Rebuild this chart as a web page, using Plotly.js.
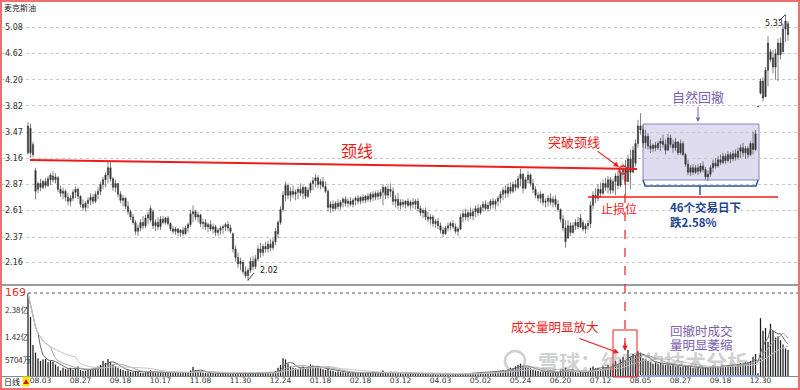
<!DOCTYPE html>
<html><head><meta charset="utf-8">
<script src="https://cdn.plot.ly/plotly-3.0.1.min.js"></script>
<style>
html,body{margin:0;padding:0;background:#fff;}
#wrap{width:800px;height:390px;box-sizing:border-box;border:2px solid #f26d6d;overflow:hidden;}
#chart{width:796px;height:386px;}
</style></head><body><div id="wrap"><div id="chart"></div></div>
<script>
// ---- data ----
const openP = [
3.22,3.52,3.32,3.02,2.82,2.88,2.84,2.90,2.86,2.92,2.96,2.92,2.94,2.82,2.78,2.80,
2.74,2.70,2.73,2.79,2.82,2.75,2.67,2.64,2.68,2.71,2.74,2.70,2.77,2.80,2.87,2.92,
2.97,3.05,2.93,2.84,2.88,2.77,2.71,2.73,2.65,2.60,2.55,2.50,2.42,2.45,2.50,2.47,
2.54,2.52,2.60,2.47,2.50,2.46,2.53,2.50,2.54,2.49,2.44,2.42,2.44,2.41,2.43,2.40,
2.45,2.48,2.58,2.60,2.55,2.57,2.49,2.50,2.46,2.48,2.44,2.46,2.41,2.43,2.45,2.46,
2.48,2.45,2.40,2.27,2.20,2.15,2.16,2.09,2.06,2.10,2.17,2.13,2.19,2.27,2.24,2.29,
2.27,2.31,2.28,2.33,2.40,2.50,2.62,2.76,2.86,2.76,2.80,2.77,2.79,2.82,2.78,2.84,
2.75,2.81,2.88,2.91,2.94,2.87,2.90,2.85,2.80,2.64,2.67,2.63,2.68,2.65,2.69,2.72,
2.68,2.70,2.67,2.71,2.73,2.70,2.74,2.71,2.75,2.72,2.77,2.74,2.78,2.75,2.79,2.84,
2.76,2.82,2.80,2.70,2.72,2.66,2.69,2.67,2.70,2.66,2.69,2.67,2.70,2.63,2.59,2.61,
2.55,2.53,2.55,2.49,2.51,2.47,2.43,2.40,2.45,2.47,2.49,2.46,2.42,2.44,2.55,2.58,
2.55,2.59,2.56,2.60,2.63,2.59,2.64,2.67,2.63,2.66,2.70,2.67,2.70,2.73,2.77,2.81,
2.78,2.84,2.80,2.87,2.84,2.93,2.98,2.83,2.92,2.97,2.88,2.82,2.76,2.73,2.77,2.69,
2.70,2.73,2.69,2.72,2.67,2.62,2.53,2.45,2.36,2.47,2.41,2.47,2.50,2.46,2.50,2.44,
2.47,2.49,2.66,2.76,2.73,2.82,2.78,2.88,2.84,2.92,2.81,2.90,2.96,2.86,3.00,3.04,
2.90,3.15,3.00,3.10,3.33,3.55,3.50,3.34,3.42,3.30,3.27,3.31,3.28,3.33,3.36,3.32,
3.25,3.40,3.32,3.28,3.35,3.22,3.33,3.20,3.09,3.00,3.05,3.00,3.05,3.01,3.07,3.03,
2.95,2.98,3.05,3.10,3.07,3.14,3.11,3.18,3.13,3.20,3.15,3.21,3.17,3.24,3.28,3.22,
3.27,3.20,3.33,3.26,3.81,4.00,4.18,3.95,4.35,4.65,4.55,4.40,4.60,4.80,4.65,5.05,5.15];
const highP = [
3.60,3.58,3.35,3.05,2.90,2.93,2.92,2.94,2.96,2.99,3.01,2.99,2.96,2.86,2.84,2.82,
2.78,2.76,2.82,2.85,2.84,2.76,2.72,2.70,2.74,2.78,2.77,2.80,2.84,2.90,2.95,3.00,
3.13,3.12,2.95,2.92,2.88,2.80,2.76,2.74,2.70,2.62,2.58,2.52,2.48,2.53,2.56,2.57,
2.60,2.66,2.62,2.53,2.55,2.56,2.56,2.55,2.56,2.50,2.47,2.46,2.45,2.44,2.46,2.47,
2.50,2.62,2.66,2.62,2.60,2.58,2.53,2.53,2.50,2.52,2.49,2.48,2.45,2.47,2.48,2.50,
2.51,2.48,2.41,2.30,2.24,2.20,2.18,2.13,2.12,2.20,2.21,2.22,2.30,2.32,2.31,2.33,
2.34,2.35,2.36,2.45,2.52,2.65,2.80,2.90,2.88,2.84,2.86,2.82,2.85,2.88,2.86,2.85,
2.84,2.90,2.95,2.98,2.97,2.93,2.95,2.90,2.82,2.70,2.71,2.70,2.72,2.71,2.74,2.75,
2.73,2.74,2.73,2.75,2.76,2.75,2.77,2.76,2.78,2.79,2.80,2.80,2.81,2.82,2.87,2.85,
2.86,2.88,2.84,2.76,2.78,2.72,2.72,2.71,2.73,2.71,2.73,2.72,2.73,2.66,2.63,2.64,
2.60,2.58,2.57,2.53,2.54,2.50,2.46,2.47,2.50,2.51,2.52,2.49,2.46,2.58,2.62,2.63,
2.62,2.64,2.63,2.66,2.67,2.66,2.70,2.71,2.69,2.72,2.73,2.72,2.75,2.80,2.84,2.86,
2.88,2.89,2.90,2.92,2.96,3.04,2.99,2.95,3.01,2.99,2.93,2.85,2.79,2.80,2.78,2.73,
2.76,2.78,2.75,2.76,2.71,2.63,2.57,2.52,2.52,2.50,2.50,2.53,2.55,2.58,2.52,2.49,
2.52,2.70,2.80,2.83,2.87,2.89,2.92,2.94,2.96,2.95,2.93,2.99,3.02,3.05,3.10,3.14,
3.20,3.26,3.30,3.38,3.63,3.72,3.56,3.50,3.46,3.38,3.33,3.35,3.36,3.40,3.44,3.38,
3.45,3.44,3.38,3.40,3.36,3.38,3.36,3.22,3.14,3.08,3.09,3.08,3.09,3.10,3.12,3.06,
3.02,3.08,3.14,3.16,3.18,3.20,3.22,3.21,3.24,3.23,3.25,3.26,3.28,3.32,3.34,3.30,
3.30,3.36,3.48,3.50,3.82,4.22,4.24,4.40,4.92,4.70,4.68,4.70,4.88,4.90,5.15,5.33,5.20];
const lowP = [
3.20,3.16,3.17,2.72,2.78,2.80,2.82,2.83,2.84,2.87,2.89,2.88,2.79,2.74,2.72,2.70,
2.66,2.65,2.70,2.73,2.72,2.64,2.61,2.60,2.63,2.66,2.67,2.68,2.72,2.76,2.82,2.84,
2.88,2.90,2.80,2.79,2.74,2.68,2.65,2.62,2.57,2.52,2.48,2.39,2.38,2.42,2.44,2.45,
2.48,2.50,2.44,2.42,2.43,2.43,2.48,2.48,2.47,2.42,2.40,2.39,2.38,2.37,2.38,2.39,
2.41,2.46,2.50,2.52,2.50,2.46,2.44,2.43,2.41,2.42,2.40,2.38,2.38,2.39,2.40,2.42,
2.42,2.40,2.24,2.17,2.12,2.10,2.07,2.04,2.02,2.08,2.10,2.11,2.17,2.20,2.21,2.24,
2.24,2.25,2.26,2.30,2.36,2.48,2.60,2.70,2.72,2.70,2.73,2.71,2.72,2.75,2.72,2.72,
2.73,2.78,2.81,2.84,2.83,2.82,2.83,2.78,2.60,2.59,2.60,2.61,2.62,2.62,2.64,2.65,
2.64,2.65,2.64,2.66,2.67,2.67,2.68,2.68,2.69,2.69,2.70,2.71,2.71,2.72,2.66,2.72,
2.73,2.74,2.66,2.64,2.62,2.62,2.64,2.63,2.64,2.62,2.63,2.62,2.60,2.56,2.54,2.52,
2.50,2.48,2.46,2.45,2.44,2.40,2.37,2.39,2.42,2.43,2.44,2.40,2.38,2.43,2.50,2.52,
2.51,2.53,2.52,2.55,2.56,2.57,2.60,2.61,2.60,2.62,2.63,2.62,2.65,2.68,2.71,2.73,
2.74,2.77,2.78,2.80,2.82,2.85,2.78,2.82,2.88,2.85,2.78,2.73,2.70,2.68,2.66,2.64,
2.65,2.66,2.64,2.64,2.60,2.50,2.42,2.28,2.36,2.38,2.40,2.43,2.44,2.45,2.42,2.40,
2.43,2.45,2.62,2.68,2.70,2.73,2.76,2.80,2.78,2.77,2.78,2.76,2.82,2.84,2.92,2.76,
2.90,2.82,3.00,3.06,3.28,3.44,3.28,3.27,3.26,3.22,3.23,3.24,3.25,3.24,3.28,3.20,
3.25,3.28,3.22,3.24,3.19,3.20,3.18,3.06,2.97,2.96,2.97,2.98,2.97,2.99,3.00,2.92,
2.91,2.95,3.00,3.04,3.05,3.08,3.09,3.09,3.11,3.10,3.12,3.13,3.14,3.16,3.17,3.15,
3.16,3.18,3.20,3.24,3.80,3.98,3.88,3.95,4.10,4.48,4.30,4.20,4.18,4.52,4.64,4.82,4.84];
const closeP = [
3.55,3.22,3.20,2.80,2.88,2.84,2.90,2.86,2.93,2.97,2.92,2.95,2.82,2.78,2.80,2.74,
2.70,2.73,2.79,2.82,2.75,2.67,2.64,2.68,2.71,2.74,2.70,2.77,2.80,2.87,2.92,2.97,
3.05,2.93,2.84,2.88,2.77,2.71,2.73,2.65,2.60,2.55,2.50,2.42,2.45,2.50,2.47,2.54,
2.57,2.63,2.47,2.50,2.46,2.53,2.50,2.54,2.49,2.44,2.42,2.44,2.41,2.43,2.40,2.45,
2.48,2.58,2.60,2.55,2.57,2.49,2.50,2.46,2.48,2.44,2.46,2.41,2.43,2.45,2.46,2.48,
2.45,2.42,2.27,2.20,2.15,2.17,2.09,2.06,2.10,2.17,2.13,2.19,2.27,2.24,2.29,2.27,
2.31,2.28,2.33,2.42,2.50,2.62,2.76,2.86,2.76,2.80,2.77,2.79,2.82,2.78,2.84,2.75,
2.81,2.88,2.91,2.94,2.87,2.90,2.85,2.80,2.64,2.67,2.63,2.68,2.65,2.69,2.72,2.68,
2.70,2.67,2.71,2.73,2.70,2.74,2.71,2.75,2.72,2.77,2.74,2.78,2.75,2.79,2.84,2.76,
2.82,2.80,2.70,2.72,2.66,2.69,2.67,2.70,2.66,2.69,2.67,2.70,2.63,2.59,2.61,2.55,
2.53,2.55,2.49,2.51,2.47,2.43,2.40,2.45,2.47,2.49,2.46,2.42,2.44,2.55,2.58,2.55,
2.59,2.56,2.60,2.63,2.59,2.64,2.67,2.63,2.66,2.70,2.67,2.70,2.73,2.77,2.81,2.78,
2.84,2.80,2.87,2.84,2.93,2.98,2.83,2.92,2.97,2.88,2.82,2.76,2.73,2.77,2.69,2.70,
2.73,2.69,2.72,2.67,2.62,2.53,2.45,2.33,2.47,2.41,2.47,2.50,2.46,2.54,2.44,2.47,
2.49,2.66,2.76,2.73,2.82,2.78,2.88,2.84,2.92,2.81,2.90,2.96,2.86,3.00,3.04,2.90,
3.15,3.00,3.25,3.33,3.55,3.50,3.34,3.42,3.30,3.27,3.31,3.28,3.33,3.36,3.32,3.25,
3.40,3.32,3.28,3.35,3.22,3.33,3.20,3.09,3.00,3.05,3.00,3.05,3.01,3.07,3.03,2.95,
2.98,3.05,3.10,3.07,3.14,3.11,3.18,3.13,3.20,3.15,3.21,3.17,3.24,3.28,3.22,3.27,
3.20,3.33,3.26,3.45,3.81,4.18,3.93,4.35,4.80,4.52,4.40,4.62,4.80,4.60,5.05,5.20,4.95];
// volume in 亿
const volume = [
3.00,2.15,1.13,0.85,0.65,0.55,0.60,0.62,0.50,0.55,0.52,0.42,0.35,0.20,0.30,0.25,
0.25,0.30,0.22,0.28,0.35,0.22,0.18,0.20,0.25,0.22,0.28,0.30,0.35,0.40,0.55,0.48,
0.62,0.50,0.42,0.35,0.30,0.25,0.22,0.18,0.20,0.15,0.14,0.18,0.15,0.12,0.12,0.14,
0.15,0.22,0.16,0.12,0.13,0.12,0.14,0.13,0.12,0.14,0.12,0.11,0.12,0.10,0.11,0.12,
0.12,0.20,0.33,0.22,0.18,0.14,0.12,0.11,0.10,0.11,0.10,0.09,0.10,0.09,0.11,0.10,
0.10,0.09,0.12,0.11,0.10,0.09,0.10,0.08,0.09,0.10,0.12,0.10,0.14,0.12,0.11,0.13,
0.12,0.10,0.13,0.18,0.30,0.40,0.65,0.60,0.45,0.35,0.30,0.28,0.25,0.30,0.35,0.28,
0.32,0.42,0.38,0.30,0.35,0.28,0.25,0.22,0.30,0.20,0.18,0.15,0.16,0.14,0.13,0.12,
0.11,0.10,0.12,0.11,0.10,0.12,0.11,0.10,0.12,0.11,0.13,0.12,0.11,0.12,0.20,0.15,
0.14,0.16,0.12,0.11,0.13,0.10,0.09,0.10,0.09,0.10,0.08,0.09,0.10,0.08,0.07,0.08,
0.07,0.06,0.07,0.06,0.05,0.06,0.07,0.05,0.06,0.05,0.06,0.07,0.06,0.08,0.10,0.09,
0.10,0.11,0.12,0.10,0.12,0.14,0.13,0.12,0.14,0.15,0.13,0.16,0.18,0.20,0.22,0.18,
0.25,0.30,0.28,0.35,0.40,0.45,0.35,0.30,0.32,0.28,0.22,0.20,0.18,0.16,0.15,0.14,
0.14,0.12,0.13,0.12,0.15,0.20,0.25,0.30,0.22,0.18,0.15,0.14,0.13,0.15,0.12,0.13,
0.15,0.30,0.35,0.28,0.30,0.25,0.35,0.28,0.40,0.30,0.45,0.55,0.40,0.60,0.70,0.55,
0.95,0.70,0.80,0.75,0.90,0.85,0.65,0.60,0.55,0.50,0.45,0.50,0.45,0.48,0.42,0.40,
0.42,0.38,0.40,0.35,0.36,0.33,0.35,0.40,0.38,0.32,0.30,0.28,0.30,0.27,0.30,0.32,
0.30,0.35,0.38,0.33,0.36,0.34,0.38,0.35,0.40,0.36,0.42,0.38,0.44,0.48,0.45,0.50,
0.50,0.55,0.70,0.80,0.10,2.10,1.65,1.75,1.25,1.90,1.65,1.40,1.45,1.30,1.15,1.00,0.95];
const dateTickPos = [5,21,37,53,69,85,101,117,133,149,165,181,197,213,229,245,261,277,293];
const dateTickText = ["08.03","08.27","09.18","10.17","11.08","11.30","12.24","01.18","02.18","03.12","04.03","05.02","05.24","06.20","07.12","08.05","08.27","09.18","12.30"];
const priceTicks = [2.16,2.37,2.61,2.87,3.16,3.47,3.82,4.20,4.62,5.08];
const priceTickText = ["2.16","2.37","2.61","2.87","3.16","3.47","3.82","4.20","4.62","5.08"];
const volTicks = [0.5704,1.42,2.38];
const volTickText = ["5704万","1.42亿","2.38亿"];

// ---- derived ----
const idx = closeP.map((_, i) => i);
function ma(arr, n) {
  return arr.map((_, i) => {
    const s = Math.max(0, i - n + 1); let t = 0;
    for (let k = s; k <= i; k++) t += arr[k];
    return t / (i - s + 1);
  });
}

// page-pixel -> paper helpers (plot area: x 2..798, y 2..376)
const PX = x => (x - 2) / 796;
const PY = y => (376 - y) / 374;

const RED = '#f01c1c', PURPLE = '#7a60ad', BLUE = '#23448e';
const CJK = 'Noto Sans CJK SC';
const MONO = 'DejaVu Sans';

const traces = [
  {type:'candlestick', x: idx, open: openP, high: highP, low: lowP, close: closeP,
   xaxis:'x', yaxis:'y', whiskerwidth: 0,
   increasing:{line:{color:'#333333', width:0.6}, fillcolor:'#333333'},
   decreasing:{line:{color:'#333333', width:0.6}, fillcolor:'#333333'},
   hoverinfo:'skip', showlegend:false},
  {type:'bar', x: idx, y: volume, xaxis:'x', yaxis:'y2', width: 0.5,
   marker:{color:'#1a1a1a', line:{width:0}}, hoverinfo:'skip', showlegend:false},
  {type:'scatter', mode:'lines', x: idx, y: ma(volume, 5), xaxis:'x', yaxis:'y2',
   line:{color:'#666666', width:1}, hoverinfo:'skip', showlegend:false},
  {type:'scatter', mode:'lines', x: idx, y: ma(volume, 10), xaxis:'x', yaxis:'y2',
   line:{color:'#a8a8a8', width:1}, hoverinfo:'skip', showlegend:false},
  {type:'scatter', mode:'lines', x: idx, y: ma(volume, 20), xaxis:'x', yaxis:'y2',
   line:{color:'#c4c4c4', width:1}, hoverinfo:'skip', showlegend:false}
];

const shapes = [
  {type:'line', xref:'paper', yref:'paper', x0:0, x1:1, y0:PY(285), y1:PY(285), line:{color:'#7a7a7a', width:1.5}},
  {type:'line', xref:'paper', yref:'paper', x0:PX(28), x1:1, y0:PY(293), y1:PY(293), line:{color:'#555', width:1, dash:'dot'}},
  {type:'line', xref:'paper', yref:'paper', x0:PX(30), y0:PY(160), x1:PX(637), y1:PY(169), line:{color:RED, width:2}},
  {type:'line', xref:'paper', yref:'paper', x0:PX(588), y0:PY(197), x1:PX(778), y1:PY(197), line:{color:RED, width:1.5}},
  {type:'circle', xref:'paper', yref:'paper', x0:PX(619), x1:PX(627), y0:PY(174), y1:PY(166), line:{color:RED, width:1.5}},
  {type:'line', xref:'paper', yref:'paper', x0:PX(625), x1:PX(625), y0:PY(176), y1:PY(346), line:{color:RED, width:1.2, dash:'dash'}},
  {type:'rect', xref:'paper', yref:'paper', x0:PX(613), x1:PX(637), y0:PY(377), y1:PY(330), line:{color:RED, width:1}},
  {type:'rect', xref:'paper', yref:'paper', layer:'below', x0:PX(643), x1:PX(759), y0:PY(180), y1:PY(124),
   fillcolor:'rgba(200,196,226,0.6)', line:{color:'#8686c4', width:1}},
  {type:'path', xref:'paper', yref:'paper',
   path:`M ${PX(643)},${PY(180)} L ${PX(645)},${PY(186)} L ${PX(756)},${PY(186)} L ${PX(758)},${PY(180)} M ${PX(700)},${PY(186)} L ${PX(700)},${PY(195)}`,
   line:{color:'#2f5597', width:1.5}},
  {type:'line', xref:'paper', yref:'paper', x0:PX(640), x1:PX(758), y0:PY(376), y1:PY(376), line:{color:'#8fa3d6', width:2}},
  {type:'line', xref:'paper', yref:'paper', x0:PX(248), y0:PY(280), x1:PX(254), y1:PY(273), line:{color:'#333', width:1}},
  {type:'line', xref:'paper', yref:'paper', x0:PX(779), y0:PY(21), x1:PX(785), y1:PY(15), line:{color:'#333', width:1}},
  {type:'circle', xref:'paper', yref:'paper', x0:PX(505), x1:PX(525), y0:PY(371), y1:PY(351), line:{color:'rgba(150,150,150,0.45)', width:2.5}}
];

function txt(x, y, text, size, color, opts) {
  return Object.assign({xref:'paper', yref:'paper', x:PX(x), y:PY(y), text:text, showarrow:false,
    font:{family:CJK, size:size, color:color}, xanchor:'center', yanchor:'middle'}, opts || {});
}
function arrow(hx, hy, tx, ty, color, w) {
  return {xref:'paper', yref:'paper', x:PX(hx), y:PY(hy), ax:tx - hx, ay:ty - hy, axref:'pixel', ayref:'pixel',
    text:'', showarrow:true, arrowhead:2, arrowsize:0.9, arrowwidth:w || 1.2, arrowcolor:color};
}

const annotations = [
  txt(357, 150, '颈线', 16, RED),
  txt(574, 141, '突破颈线', 13, RED),
  arrow(619, 167, 596, 150, RED, 1.2),
  txt(619, 208, '止损位', 12, RED),
  txt(698, 96, '自然回撤', 13, PURPLE),
  arrow(698, 122, 698, 105, PURPLE, 1),
  txt(668, 207, '<b>46个交易日下</b>', 11.5, BLUE, {xanchor:'left'}),
  txt(668, 222, '<b>跌2.58%</b>', 11.5, BLUE, {xanchor:'left'}),
  txt(555, 326, '成交量明显放大', 12.5, RED),
  arrow(619, 353, 578, 338, RED, 1.2),
  arrow(625, 351, 625, 341, RED, 1.2),
  txt(668, 330, '回撤时成交', 12.5, PURPLE, {xanchor:'left'}),
  txt(668, 344, '量明显萎缩', 12.5, PURPLE, {xanchor:'left'}),
  txt(536, 361, '<b>雪球：纳瑞的技术分析</b>', 21, 'rgba(140,140,140,0.42)', {xanchor:'left'}),
  txt(258, 270, '2.02', 8, '#222', {xanchor:'left', font:{family:MONO, size:8, color:'#222'}}),
  txt(763, 23, '5.33', 8, '#222', {xanchor:'left', font:{family:MONO, size:8, color:'#222'}}),
  txt(3, 292, '169', 11, '#e03030', {xanchor:'left', font:{family:'DejaVu Sans', size:11, color:'#e03030'}}),
  txt(2, 8, '麦克斯油', 8, '#222', {xanchor:'left'}),
  txt(2, 381, '日线', 8, '#111', {xanchor:'left'}),
  txt(22, 381, '▲', 6, '#d01010', {xanchor:'left', bgcolor:'#ffe100', borderpad:0})
];

const layout = {
  width:796, height:386,
  margin:{l:0, r:0, t:0, b:12},
  paper_bgcolor:'#ffffff', plot_bgcolor:'#ffffff',
  showlegend:false, hovermode:false, dragmode:false,
  xaxis:{domain:[0,1], range:[-10.4, 308], anchor:'y2', showgrid:false, zeroline:false,
    showline:true, linecolor:'#888', linewidth:1,
    tickmode:'array', tickvals:dateTickPos, ticktext:dateTickText, ticks:'', ticklen:0,
    ticklabelstandoff:-3,
    tickfont:{family:MONO, size:7.5, color:'#333'}, rangeslider:{visible:false}},
  yaxis:{domain:[PY(284), 1], type:'log', range:[0.30064, 0.74614], anchor:'x',
    tickmode:'array', tickvals:priceTicks, ticktext:priceTickText, ticklabelposition:'inside',
    tickfont:{family:MONO, size:8, color:'#333'}, showgrid:true, gridcolor:'#c8c8c8', griddash:'dot',
    gridwidth:1, zeroline:false, showline:false, ticks:''},
  yaxis2:{domain:[0, PY(286)], range:[0, 90/27.5], anchor:'x',
    tickmode:'array', tickvals:volTicks, ticktext:volTickText, ticklabelposition:'inside',
    tickfont:{family:CJK, size:8, color:'#333'}, showgrid:false, zeroline:false, showline:false, ticks:''},
  shapes:shapes,
  annotations:annotations
};

Plotly.newPlot('chart', traces, layout, {displayModeBar:false, staticPlot:true});
</script>
</body></html>
